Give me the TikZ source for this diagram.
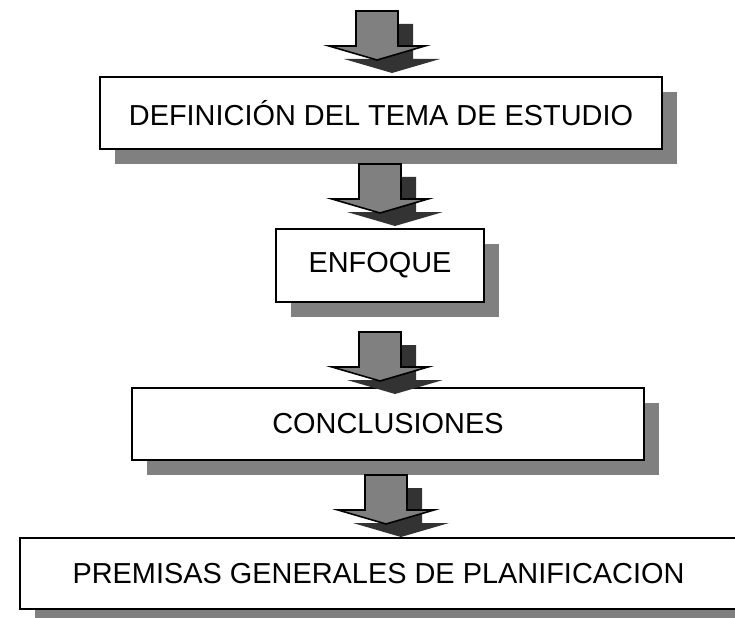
\documentclass[tikz,border=0pt]{standalone}
\usepackage{fontspec}
\setmainfont{Liberation Sans}
\usetikzlibrary{shadows}

\definecolor{boxshade}{HTML}{808080}
\definecolor{arrowfill}{HTML}{808080}
\definecolor{arrowshade}{HTML}{333333}

\tikzset{
  stagebox/.style={draw=black, line width=1.6bp, fill=white, inner sep=0pt,
    font=\fontsize{28.9bp}{34bp}\selectfont,
    drop shadow={shadow xshift=15bp, shadow yshift=-15bp, fill=boxshade, opacity=1}},
  pics/downarrow/.style={code={
    \fill[arrowshade, shift={(15,13)}] (-21,0) -- (21,0) -- (21,35) -- (48,35) -- (0,49) -- (-48,35) -- (-21,35) -- cycle;
    \filldraw[fill=arrowfill, draw=black, line width=1.6bp] (-21,0) -- (21,0) -- (21,35) -- (48,35) -- (0,49) -- (-48,35) -- (-21,35) -- cycle;
  }}
}

\begin{document}
\begin{tikzpicture}[x=1bp,y=-1bp]
		\useasboundingbox (0,0) rectangle (735,618);
		% etapas
		\node[stagebox, minimum width=562bp, minimum height=72bp] (tema) at (381,113) {DEFINICIÓN DEL TEMA DE ESTUDIO};
		\node[stagebox, minimum width=208bp, minimum height=73bp] (enfoque) at (380,265.5) {ENFOQUE};
		\node[stagebox, minimum width=512bp, minimum height=72bp] (conclus) at (388,424) {CONCLUSIONES};
		\node[stagebox, minimum width=717bp, minimum height=71bp] (premisas) at (378.5,573.5) {PREMISAS GENERALES DE PLANIFICACION};
		% flechas
		\pic (flechaA) at (377,11) {downarrow};
		\pic (flechaB) at (380,164) {downarrow};
		\pic (flechaC) at (380,332) {downarrow};
		\pic (flechaD) at (386,475) {downarrow};
\end{tikzpicture}
\end{document}
